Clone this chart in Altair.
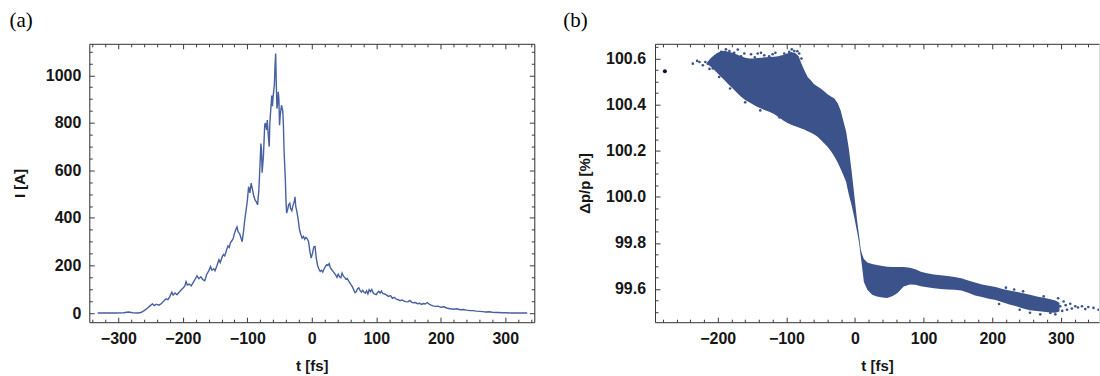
import altair as alt
import pandas as pd

# ---------------- Panel (a): current profile ----------------
t_a = [-332, -320, -305, -292, -284, -278, -270, -265, -260, -255, -251, -247, -244, -241, -237, -233,
       -229, -226, -223, -220, -217, -215, -212, -209, -206, -203, -200, -197, -195, -193, -190, -187,
       -184, -181, -178, -175, -172, -169, -166, -163, -160, -157, -155, -152, -150, -147, -144, -142,
       -139, -137, -135, -132, -130, -128, -126, -124, -122, -120, -118, -116, -114, -112, -110, -108,
       -106, -104, -102, -100, -98, -96, -94, -92, -90, -88, -86, -84, -82, -80, -79, -78,
       -77, -75, -73, -72, -70, -69, -67, -66, -65, -63, -62, -61, -60, -58, -57, -56,
       -55, -54, -53, -52, -51, -50, -49, -47, -45, -44, -43, -41, -40, -39, -37, -36,
       -34, -33, -31, -29, -27, -26, -25, -23, -21, -19, -17, -15, -13, -11, -9, -7,
       -5, -3, -1, 1, 3, 5, 7, 9, 11, 13, 15, 17, 19, 21, 23, 25,
       27, 29, 31, 33, 35, 37, 39, 41, 43, 45, 47, 49, 51, 53, 55, 57,
       59, 61, 63, 65, 67, 69, 71, 73, 75, 77, 79, 81, 83, 85, 87, 89,
       91, 93, 95, 97, 100, 102, 104, 106, 108, 110, 113, 116, 119, 122, 125, 128,
       131, 134, 137, 140, 143, 146, 149, 152, 155, 158, 161, 164, 167, 170, 173, 176,
       179, 182, 185, 188, 192, 196, 200, 205, 210, 215, 220, 225, 230, 235, 240, 245,
       250, 255, 260, 265, 270, 275, 280, 285, 290, 295, 300, 310, 320, 334]
i_a = [0, 0, 0, 1, 4, 1, 0, 2, 10, 20, 30, 38, 31, 37, 33, 40,
       52, 60, 56, 70, 88, 76, 84, 77, 86, 96, 104, 113, 132, 118, 122, 114,
       128, 142, 156, 144, 152, 140, 136, 162, 176, 196, 180, 186, 178, 200, 224, 212,
       236, 246, 240, 266, 282, 276, 296, 304, 312, 334, 350, 362, 340, 334, 318, 300,
       340, 390, 430, 470, 531, 505, 546, 520, 492, 476, 468, 455, 520, 640, 713, 690,
       590, 660, 790, 800, 770, 812, 730, 700, 800, 880, 915, 870, 909, 960, 1040, 1091,
       960, 860, 880, 930, 900, 790, 830, 874, 850, 790, 685, 560, 470, 420, 440, 455,
       462, 440, 430, 455, 470, 489, 450, 425, 391, 350, 330, 315, 322, 310, 318, 312,
       300, 260, 231, 250, 278, 280, 230, 200, 185, 175, 180, 172, 185, 195, 203, 200,
       208, 190, 182, 175, 168, 160, 150, 163, 152, 148, 168, 155, 150, 142, 145, 135,
       127, 118, 110, 98, 86, 90, 102, 106, 94, 88, 96, 87, 84, 93, 80, 98,
       90, 99, 86, 80, 77, 86, 91, 84, 92, 82, 80, 75, 70, 73, 62, 66,
       58, 56, 52, 55, 50, 48, 47, 53, 45, 43, 44, 39, 41, 36, 40, 38,
       44, 37, 33, 30, 28, 29, 24, 26, 20, 18, 16, 18, 14, 15, 12, 10,
       10, 8, 7, 6, 4, 5, 3, 2, 2, 1, 1, 0, 0, 0]

# ---------------- Panel (b): longitudinal phase space ----------------
t_band = [-215, -210, -205, -200, -195, -190, -185, -178, -172, -166, -160, -154, -148, -142, -136, -130,
          -124, -118, -112, -105, -99, -93, -87, -82, -79, -74, -69, -64, -60, -55, -50, -45,
          -40, -35, -30, -25, -21, -17, -13, -9, -5, -1, 3, 6, 8.5, 11,
          13, 18, 25, 32, 40, 47, 55, 62, 71, 80, 88, 96, 105, 115, 125, 135,
          145, 155, 165, 175, 185, 195, 205, 215, 225, 235, 245, 255, 265, 275, 285, 292, 298]
lo_band = [100.575, 100.564, 100.55, 100.535, 100.52, 100.506, 100.49, 100.47, 100.452, 100.434, 100.42, 100.41,
           100.40, 100.39, 100.382, 100.375, 100.368, 100.36, 100.348, 100.332, 100.322, 100.313, 100.306, 100.301,
           100.298, 100.292, 100.285, 100.278, 100.272, 100.262, 100.248, 100.232, 100.217, 100.198, 100.175, 100.148,
           100.122, 100.095, 100.065, 100.01, 99.965, 99.91, 99.85, 99.80, 99.741, 99.68,
           99.63, 99.597, 99.575, 99.567, 99.563, 99.561, 99.57, 99.583, 99.611, 99.62, 99.618, 99.612,
           99.608, 99.603, 99.60, 99.598, 99.597, 99.594, 99.584, 99.572, 99.565, 99.558, 99.552, 99.543,
           99.533, 99.525, 99.515, 99.508, 99.505, 99.501, 99.498, 99.497, 99.502]
hi_band = [100.585, 100.603, 100.615, 100.625, 100.632, 100.634, 100.63, 100.625, 100.618, 100.61, 100.604, 100.60,
           100.60, 100.602, 100.604, 100.606, 100.607, 100.608, 100.61, 100.615, 100.622, 100.628, 100.624, 100.61,
           100.585, 100.55, 100.52, 100.505, 100.49, 100.48, 100.47, 100.458, 100.445, 100.435, 100.427, 100.405,
           100.376, 100.33, 100.285, 100.21, 100.114, 100.008, 99.90, 99.83, 99.77, 99.745,
           99.73, 99.715, 99.708, 99.704, 99.70, 99.697, 99.695, 99.695, 99.695, 99.692, 99.686, 99.675,
           99.668, 99.663, 99.66, 99.656, 99.652, 99.647, 99.637, 99.628, 99.62, 99.614, 99.609, 99.60,
           99.594, 99.588, 99.582, 99.575, 99.568, 99.562, 99.556, 99.55, 99.54]

# sparse particles at the fringes of the band
t_pts = [-236.3, -230, -226.6, -221.7, -218, -214.5, -207.2, -204.8, -199, -195, -188, -183, -176, -170.8,
         -166, -161.2, -151.5, -146, -141.8, -137, -132.2, -129.7, -125, -120, -116, -112.7, -107.9, -103,
         -99, -95.8, -92, -88.5, -84, -81.3, -78,
         -212, -198, -182, -160, -138, -110,
         210, 220, 232, 240, 245, 255, 260.4, 265, 270, 275, 280, 284.7, 289.5, 292, 296, 299, 302, 304,
         307, 309, 313.7, 316, 321, 325, 330.8, 335.6, 340, 347.6, 354.9]
v_pts = [100.578, 100.59, 100.585, 100.571, 100.585, 100.578, 100.557, 100.593, 100.605, 100.629, 100.64,
         100.633, 100.625, 100.639, 100.61, 100.622, 100.619, 100.605, 100.622, 100.625, 100.614, 100.593,
         100.61, 100.619, 100.625, 100.593, 100.585, 100.622, 100.61, 100.629, 100.64, 100.633, 100.632,
         100.622, 100.60,
         100.555, 100.52, 100.47, 100.41, 100.375, 100.345,
         99.535, 99.606, 99.598, 99.51, 99.59, 99.497, 99.532, 99.51, 99.49, 99.568, 99.518, 99.496, 99.539,
         99.49, 99.56, 99.525, 99.505, 99.546, 99.53, 99.51, 99.536, 99.515, 99.525, 99.52, 99.525, 99.513,
         99.522, 99.518, 99.51]

t_iso = [-277]
v_iso = [100.545]

# ---------------- axes / style ----------------
XA_DOM = [-345, 345]
YA_DOM = [-38.6, 1132.2]
XB_DOM = [-291.4, 355.6]
YB_DOM = [99.456, 100.664]

xa_major = [-300, -200, -100, 0, 100, 200, 300]
xa_minor = [v for v in range(-340, 341, 20) if v % 100 != 0]
ya_major = [0, 200, 400, 600, 800, 1000]
ya_minor = [v for v in range(0, 1101, 50) if v % 200 != 0]
xb_major = [-200, -100, 0, 100, 200, 300]
xb_minor = [v for v in range(-280, 341, 20) if v % 100 != 0]
yb_major = [99.6, 99.8, 100.0, 100.2, 100.4, 100.6]
yb_minor = [round(99.5 + 0.05 * k, 2) for k in range(0, 24)]
yb_minor = [v for v in yb_minor if v not in yb_major]

FRAME = '#3a3a3a'
TXT = '#161616'
FONT = 'Liberation Sans'
BLUE = '#3b528a'
LINE = '#4660a0'
W, H = 446, 279


def label_axis(orient, values, fmt, title, lpad, tpad):
    return alt.Axis(orient=orient, values=values, format=fmt, ticks=False, tickSize=0,
                    domain=True, domainColor=FRAME, domainWidth=1, grid=False,
                    labelFont=FONT, labelFontSize=16, labelFontWeight='bold', labelColor=TXT,
                    labelPadding=lpad, labelFlush=False, labelOverlap=False,
                    title=title, titleFont=FONT, titleFontSize=15, titleFontWeight='bold',
                    titleColor=TXT, titlePadding=tpad)


def tick_axis(orient, values, size):
    return alt.Axis(orient=orient, values=values, offset=-size, tickSize=size, ticks=True,
                    tickColor=FRAME, tickWidth=1, domain=False, labels=False, grid=False, title=None)


def dom_axis(orient):
    return alt.Axis(orient=orient, domain=True, domainColor=FRAME, domainWidth=1, ticks=False,
                    labels=False, grid=False, title=None)


def frame_layers(xdom, ydom, xmaj, xmin, ymaj, ymin, right=True):
    df = pd.DataFrame({'fx': [xdom[0]], 'fy': [ydom[0]]})
    base = alt.Chart(df).mark_point(opacity=0, size=1)

    def enc(xaxis, yaxis):
        return base.encode(
            x=alt.X('fx:Q', scale=alt.Scale(domain=xdom, nice=False, zero=False), axis=xaxis),
            y=alt.Y('fy:Q', scale=alt.Scale(domain=ydom, nice=False, zero=False), axis=yaxis))

    return [
        enc(dom_axis('top'), dom_axis('right') if right else None),
        enc(tick_axis('bottom', xmaj, 5), tick_axis('left', ymaj, 5)),
        enc(tick_axis('bottom', xmin, 3), tick_axis('left', ymin, 3)),
        enc(tick_axis('top', xmaj, 5), tick_axis('right', ymaj, 5) if right else None),
        enc(tick_axis('top', xmin, 3), tick_axis('right', ymin, 3) if right else None),
    ]


def panel_label(text, dx, dy):
    return alt.Chart(pd.DataFrame({'lab': [text]})).mark_text(
        font='Liberation Serif', fontSize=21, align='left', baseline='alphabetic', color='black'
    ).encode(x=alt.value(dx), y=alt.value(dy), text='lab:N')


# ---- panel (a)
df_a = pd.DataFrame({'t': t_a, 'I': i_a})
line_a = alt.Chart(df_a).mark_line(color=LINE, strokeWidth=1.4, clip=True).encode(
    x=alt.X('t:Q', scale=alt.Scale(domain=XA_DOM, nice=False, zero=False),
            axis=label_axis('bottom', xa_major, 'd', 't [fs]', 8, 12.5)),
    y=alt.Y('I:Q', scale=alt.Scale(domain=YA_DOM, nice=False, zero=False),
            axis=label_axis('left', ya_major, 'd', 'I [A]', 8.5, 18)),
)
panel_a = alt.layer(
    line_a, panel_label('(a)', -80, -17.3),
    *frame_layers(XA_DOM, YA_DOM, xa_major, xa_minor, ya_major, ya_minor, right=True)
).resolve_axis(x='independent', y='independent').properties(width=W, height=H)

# ---- panel (b)
df_band = pd.DataFrame({'t': t_band, 'lo': lo_band, 'hi': hi_band})
df_pts = pd.DataFrame({'t': t_pts, 'v': v_pts})
df_iso = pd.DataFrame({'t': t_iso, 'v': v_iso})
xs_b = alt.Scale(domain=XB_DOM, nice=False, zero=False)
ys_b = alt.Scale(domain=YB_DOM, nice=False, zero=False)

band = alt.Chart(df_band).mark_area(color=BLUE, clip=True, opacity=1).encode(
    x=alt.X('t:Q', scale=xs_b, axis=label_axis('bottom', xb_major, 'd', 't [fs]', 8, 12.5)),
    y=alt.Y('lo:Q', scale=ys_b, axis=label_axis('left', yb_major, '.1f', 'Δp/p [%]', 9.5, 13)),
    y2='hi:Q',
)
pts = alt.Chart(df_pts).mark_circle(color=BLUE, size=7, opacity=1, clip=True).encode(
    x=alt.X('t:Q', scale=xs_b, axis=None),
    y=alt.Y('v:Q', scale=ys_b, axis=None),
)
iso = alt.Chart(df_iso).mark_circle(color='#0b1038', size=16, opacity=1).encode(
    x=alt.X('t:Q', scale=xs_b, axis=None),
    y=alt.Y('v:Q', scale=ys_b, axis=None),
)
panel_b = alt.layer(
    band, pts, iso, panel_label('(b)', -92, -17.3),
    *frame_layers(XB_DOM, YB_DOM, xb_major, xb_minor, yb_major, yb_minor, right=False)
).resolve_axis(x='independent', y='independent').properties(width=W - 1, height=H)

chart = alt.hconcat(panel_a, panel_b, spacing=27).properties(
    padding={'left': 8.5, 'top': 8.5, 'right': 0, 'bottom': 0}
).configure_view(stroke=None).configure(background='white')

chart.save("out.html", embed_options={"renderer": "svg", "actions": False})
